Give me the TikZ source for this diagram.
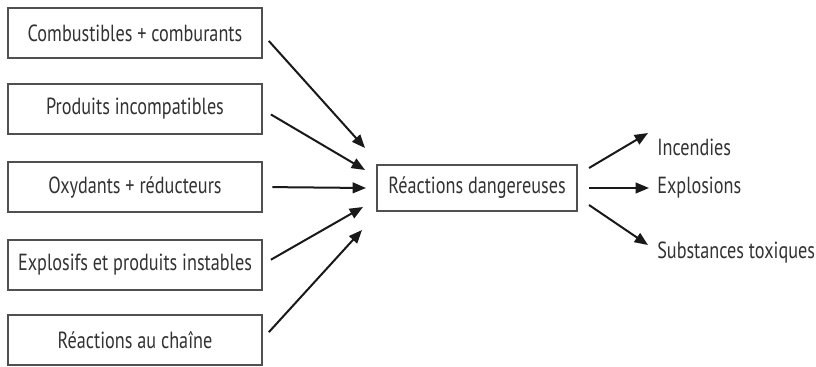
\documentclass[tikz,border=0pt]{standalone}
\usepackage{fontspec}
\setmainfont{PT Sans}[FakeStretch=0.78]
\usetikzlibrary{arrows.meta}
\definecolor{boxgray}{RGB}{80,80,80}
\definecolor{textgray}{RGB}{50,50,50}
\newcommand{\causewidth}{190pt}
\newcommand{\causeheight}{37.5pt}
\newcommand{\causex}{135}
\newcommand{\reactwidth}{150pt}
\newcommand{\reactheight}{35pt}
\newcommand{\effectx}{657}

\begin{document}
\begin{tikzpicture}[x=0.75pt,y=-0.75pt]
\tikzstyle{cause}=[draw=boxgray,line width=1.3pt,minimum width=\causewidth,minimum height=\causeheight,outer sep=0pt,text=textgray]
\tikzstyle{effect}=[anchor=west,inner sep=0pt,text=textgray]
\tikzstyle{arrow}=[line width=1.5pt,draw=black!90,-{Triangle[length=10pt,width=8pt]}]
\tikzset{every node/.style={font=\fontsize{17.5pt}{20pt}\selectfont}}

\useasboundingbox (0,0) rectangle (816,367);

\node (C1) [cause] at (\causex,33) {Combustibles + comburants};
\node (C2) [cause] at (\causex,109) {Produits incompatibles};
\node (C3) [cause] at (\causex,187) {Oxydants + réducteurs};
\node (C4) [cause] at (\causex,265) {Explosifs et produits instables};
\node (C5) [cause] at (\causex,340) {Réactions au chaîne};

\node (R) [cause,minimum width=\reactwidth,minimum height=\reactheight] at (477,188) {Réactions dangereuses};

\node (inc)  [effect] at (\effectx,147) {Incendies};
\node (expl) [effect] at (\effectx,188) {Explosions};
\node (tox)  [effect] at (\effectx,253) {Substances toxiques};

% tips in front of the central box
\coordinate (t1) at (365,148);
\coordinate (t2) at (365,170);
\coordinate (t3) at (366,188);
\coordinate (t4) at (363,207);
\coordinate (t5) at (362,230);

\draw[arrow,shorten <=8pt] (C1.east) -- (t1);
\draw[arrow,shorten <=8pt] (C2.east) -- (t2);
\draw[arrow,shorten <=8pt] (C3.east) -- (t3);
\draw[arrow,shorten <=8pt] (C4.east) -- (t4);
\draw[arrow,shorten <=8pt] (C5.east) -- (t5);

\coordinate (e1) at (648,133);
\coordinate (e3) at (648,245);
\draw[arrow] ([shift={(12,-20)}]R.east) -- (e1);
\draw[arrow,shorten >=6pt] ([xshift=9pt]R.east) -- (expl.west);
\draw[arrow] ([shift={(12,17)}]R.east) -- (e3);

\end{tikzpicture}
\end{document}
